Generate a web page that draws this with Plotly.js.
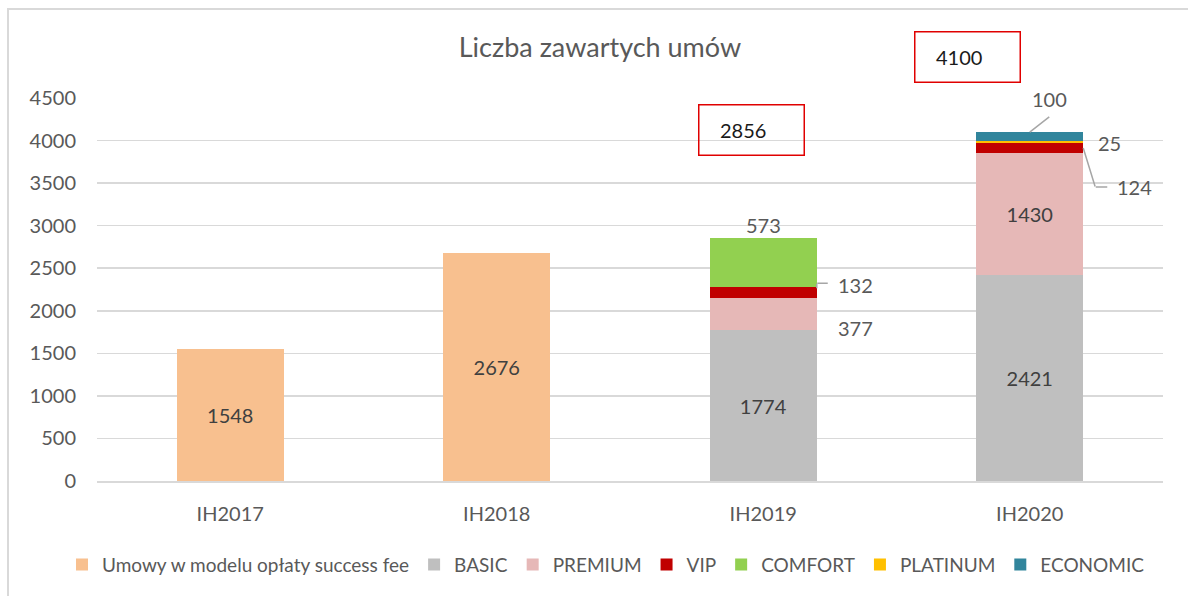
<!DOCTYPE html>
<html>
<head>
<meta charset="utf-8">
<script src="https://cdn.plot.ly/plotly-3.0.1.min.js"></script>
<style>
  html, body { margin: 0; padding: 0; background: #fff; }
  #chart { position: absolute; left: 0; top: 0; width: 1188px; height: 596px; }
  #frame { position: absolute; left: 7px; top: 8px; width: 1181px; height: 588px;
           border-left: 2px solid #d9d9d9; border-top: 2px solid #d9d9d9; pointer-events: none; box-sizing: border-box; }
</style>
</head>
<body>
<div id="chart"></div>
<div id="frame"></div>
<script>
// ---- data ----
const categories = ['IH2017', 'IH2018', 'IH2019', 'IH2020'];
const successFee = [1548, 2676, null, null];
const basic      = [null, null, 1774, 2421];
const premium    = [null, null, 377, 1430];
const vip        = [null, null, 132, 124];
const comfort    = [null, null, 573, null];
const platinum   = [null, null, null, 25];
const economic   = [null, null, null, 100];
const totals     = [null, null, 2856, 4100];
const seriesNames = ['Umowy w modelu opłaty success fee', 'BASIC', 'PREMIUM', 'VIP', 'COMFORT', 'PLATINUM', 'ECONOMIC'];
const tickVals = [0, 500, 1000, 1500, 2000, 2500, 3000, 3500, 4000, 4500];

const colors = ['#F8C08F', '#BFBFBF', '#E6B8B7', '#C00000', '#92D050', '#FFC000', '#31859C'];
const txtColor = '#595959';
const FONT = 'Lato, "Noto Sans", sans-serif';
const seriesVals = [successFee, basic, premium, vip, comfort, platinum, economic];

// which points get an inside label
const insideMask = [
  [true, true, false, false],
  [false, false, true, true],
  [false, false, false, true],
  [false, false, false, false],
  [false, false, false, false],
  [false, false, false, false],
  [false, false, false, false]
];

const traces = seriesVals.map((vals, i) => ({
  type: 'bar',
  name: seriesNames[i],
  x: categories,
  y: vals,
  marker: { color: colors[i], line: { width: 0 } },
  text: vals.map((v, j) => (insideMask[i][j] && v != null) ? String(v) : ''),
  textposition: vals.map((v, j) => insideMask[i][j] ? 'inside' : 'none'),
  insidetextanchor: 'middle',
  insidetextfont: { family: FONT, size: 20, color: '#404040' },
  textangle: 0,
  constraintext: 'none',
  hoverinfo: 'x+y+name'
}));

const c19 = categories[2], c20 = categories[3];
const halfBar = 53.5;
const lead = '#A6A6A6';

function label(x, y, text, xshift, yshift) {
  return { x: x, y: y, xref: 'x', yref: 'y', text: text, showarrow: false,
           xshift: xshift, yshift: yshift, xanchor: 'center', yanchor: 'middle',
           font: { family: FONT, size: 20, color: txtColor } };
}
function leader(x, y, xshift, yshift, ax, ay) {
  return { x: x, y: y, xref: 'x', yref: 'y', text: '', showarrow: true,
           arrowhead: 0, arrowwidth: 1.5, arrowcolor: lead, standoff: 0, startstandoff: 0,
           ax: ax, ay: ay, xshift: xshift, yshift: yshift, borderpad: 0,
           font: { size: 1 } };
}
function totalBox(x, y, text, xshift, yshift) {
  return { x: x, y: y, xref: 'x', yref: 'y', text: '&nbsp;&nbsp;&nbsp;&nbsp;' + text, showarrow: false,
           xshift: xshift, yshift: yshift, xanchor: 'center', yanchor: 'middle',
           width: 104, height: 49, align: 'left', valign: 'middle',
           bordercolor: '#E00000', borderwidth: 1.5, borderpad: 0, bgcolor: 'rgba(0,0,0,0)',
           font: { family: FONT, size: 20, color: '#1a1a1a' } };
}

const vip19mid = basic[2] + premium[2] + vip[2] / 2;
const prem19mid = basic[2] + premium[2] / 2;
const vip20mid = basic[3] + premium[3] + vip[3] / 2;
const plat20mid = basic[3] + premium[3] + vip[3] + platinum[3] / 2;

const annotations = [
  label(c19, prem19mid, String(premium[2]), 92, -14),
  label(c19, vip19mid, String(vip[2]), 92, 7),
  leader(c19, vip19mid, halfBar, 4, 0, -5),
  leader(c19, vip19mid, halfBar + 11, 9, -11, 0),
  label(c19, totals[2], String(comfort[2]), 0, 13),
  label(c20, totals[3], String(economic[3]), 20, 33),
  leader(c20, totals[3], 0, 0, 20, -15.5),
  label(c20, plat20mid, String(platinum[3]), 80, -1),
  label(c20, vip20mid, String(vip[3]), 105, -39),
  leader(c20, vip20mid, halfBar, 0, 12, 39),
  leader(c20, vip20mid, halfBar + 24, -39, -12, 0),
  totalBox(c19, totals[2], String(totals[2]), -11.5, 107.6),
  totalBox(c20, totals[3], String(totals[3]), -62, 74.7)
];

const layout = {
  width: 1188, height: 596,
  margin: { l: 97, r: 25, t: 98, b: 113 },
  paper_bgcolor: '#ffffff', plot_bgcolor: '#ffffff',
  barmode: 'stack',
  bargap: 0.6,
  font: { family: FONT, color: txtColor, size: 20 },
  title: { text: 'Liczba zawartych umów', x: 0.505, xref: 'container', xanchor: 'center',
           y: 1 - 48 / 596, yref: 'container', yanchor: 'middle',
           font: { family: FONT, size: 27, color: txtColor } },
  xaxis: { type: 'category', showline: true, linecolor: '#D9D9D9', linewidth: 1.5,
           showgrid: false, ticks: '', tickfont: { family: FONT, size: 20, color: txtColor },
           ticklabelstandoff: 14 },
  yaxis: { range: [0, 4500], tickvals: tickVals, ticktext: tickVals.map(String),
           showgrid: true, gridcolor: '#D9D9D9', gridwidth: 1.5, zeroline: false, showline: false,
           ticks: '', tickfont: { family: FONT, size: 20, color: txtColor }, ticklabelstandoff: 20 },
  legend: { orientation: 'h', xref: 'paper', x: (62 - 97) / 1066, xanchor: 'left',
            yref: 'paper', y: (483 - 567) / 385, yanchor: 'middle',
            font: { family: FONT, size: 19, color: txtColor }, traceorder: 'normal',
            itemwidth: 30, tracegroupgap: 0 },
  showlegend: true,
  annotations: annotations
};

Plotly.newPlot('chart', traces, layout, { displayModeBar: false, staticPlot: true });
</script>
</body>
</html>
